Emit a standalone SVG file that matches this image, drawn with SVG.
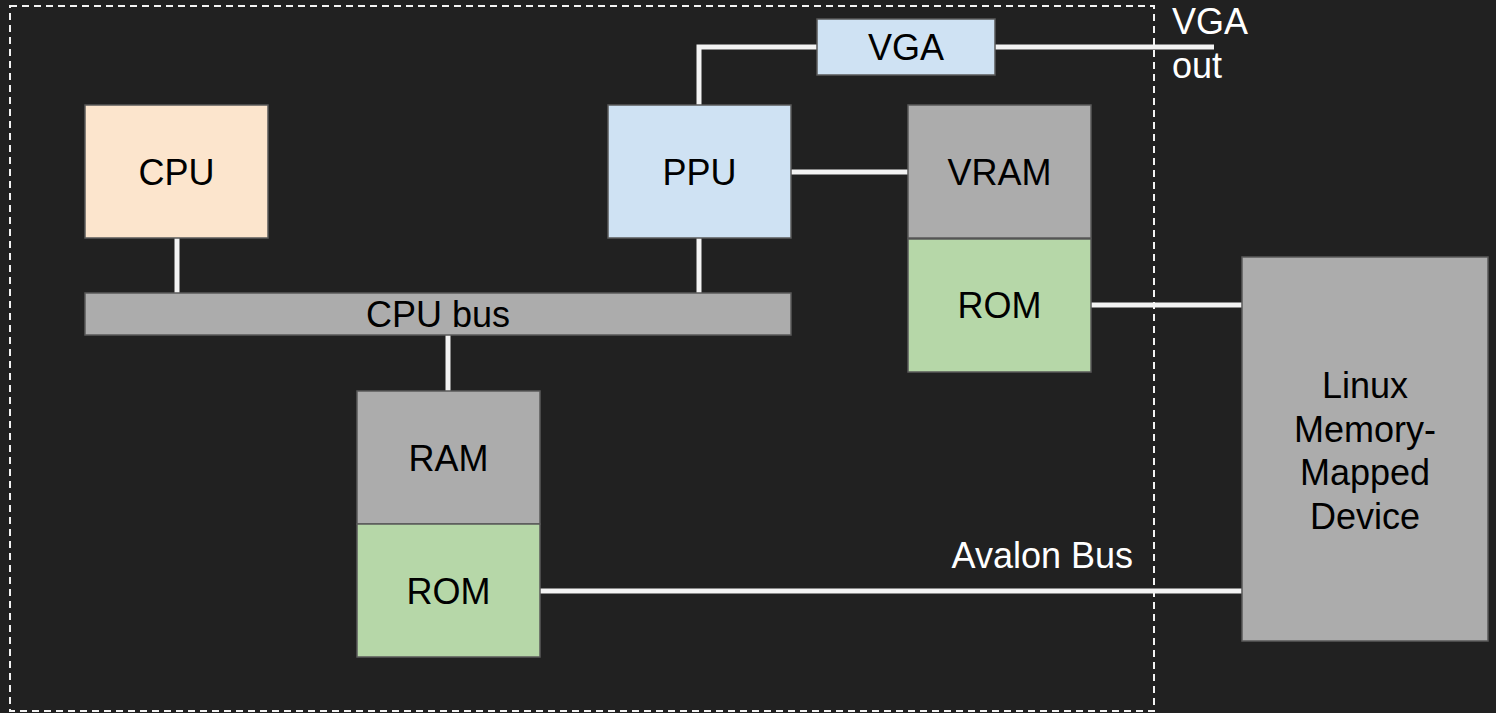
<svg xmlns="http://www.w3.org/2000/svg" width="1496" height="713" viewBox="0 0 1496 713">
<style>
text{font-family:"Liberation Sans",Arial,sans-serif;font-size:36px;fill:#000}
.lbl{fill:#fff}
.box{stroke:#595959;stroke-width:1.5}
.peach{fill:#fce5cd}.blue{fill:#cfe2f3}.gray{fill:#acacac}.green{fill:#b6d7a8}
.wire{stroke:#f3f3f3;stroke-width:5;fill:none}
</style>
<rect width="1496" height="713" fill="#212121"/>
<rect id="boundary" x="10" y="6" width="1144" height="705" fill="none" stroke="#f3f3f3" stroke-width="2" stroke-dasharray="7,5"/>
<g id="connectors">
<line class="wire" x1="177" y1="238" x2="177" y2="293"/>
<line class="wire" x1="699" y1="238" x2="699" y2="293"/>
<line class="wire" x1="448" y1="335" x2="448" y2="391"/>
<polyline class="wire" points="699,105 699,47 817,47"/>
<line class="wire" x1="995" y1="47" x2="1214" y2="47"/>
<line class="wire" x1="791" y1="172" x2="908" y2="172"/>
<line class="wire" x1="1091" y1="305" x2="1242" y2="305"/>
<line class="wire" x1="540" y1="591" x2="1242" y2="591"/>
</g>
<g id="cpu"><rect class="box peach" x="85" y="105" width="183" height="133"/><text x="176.5" y="185" text-anchor="middle">CPU</text></g>
<g id="ppu"><rect class="box blue" x="608" y="105" width="183" height="133"/><text x="699.5" y="185" text-anchor="middle">PPU</text></g>
<g id="vga"><rect class="box blue" x="817" y="19" width="178" height="56"/><text x="906" y="60" text-anchor="middle">VGA</text></g>
<g id="vram"><rect class="box gray" x="908" y="105" width="183" height="133"/><text x="999.5" y="185" text-anchor="middle">VRAM</text></g>
<g id="rom-top"><rect class="box green" x="908" y="239" width="183" height="133"/><text x="999.5" y="318" text-anchor="middle">ROM</text></g>
<g id="cpu-bus"><rect class="box gray" x="85" y="293" width="706" height="42"/><text x="438" y="327" text-anchor="middle">CPU bus</text></g>
<g id="ram"><rect class="box gray" x="357" y="391" width="183" height="133"/><text x="448.5" y="471" text-anchor="middle">RAM</text></g>
<g id="rom-bottom"><rect class="box green" x="357" y="524" width="183" height="133"/><text x="448.5" y="604" text-anchor="middle">ROM</text></g>
<g id="linux"><rect class="box gray" x="1242" y="257" width="246" height="384"/>
<text x="1365" y="398" text-anchor="middle">Linux</text>
<text x="1365" y="442" text-anchor="middle">Memory-</text>
<text x="1365" y="485" text-anchor="middle">Mapped</text>
<text x="1365" y="529" text-anchor="middle">Device</text></g>
<g id="labels">
<text class="lbl" x="1172" y="34">VGA</text>
<text class="lbl" x="1172" y="78">out</text>
<text class="lbl" x="1133" y="568" text-anchor="end">Avalon Bus</text>
</g>
</svg>
